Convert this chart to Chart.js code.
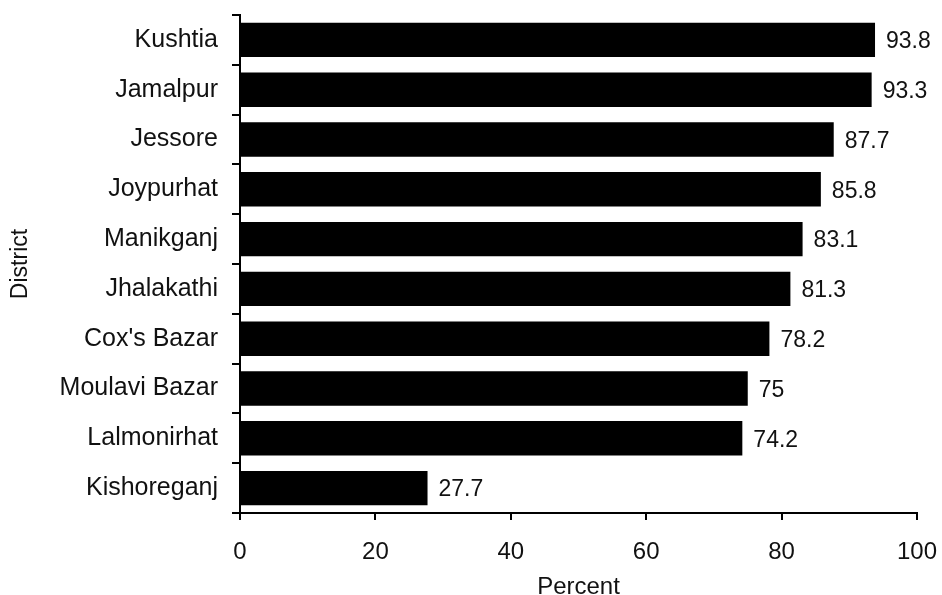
<!DOCTYPE html>
<html>
<head>
<meta charset="utf-8">
<script src="https://cdn.jsdelivr.net/npm/chart.js@4.4.1/dist/chart.umd.min.js"></script>
<style>
  html, body { margin: 0; padding: 0; background: #fff; }
  #wrap { width: 942px; height: 595px; }
</style>
</head>
<body>
<div id="wrap"><canvas id="districtChart" width="942" height="595"></canvas></div>
<script>
// districts, top to bottom
const districts = ['Kushtia', 'Jamalpur', 'Jessore', 'Joypurhat', 'Manikganj',
  'Jhalakathi', "Cox's Bazar", 'Moulavi Bazar', 'Lalmonirhat', 'Kishoreganj'];
const percents = [93.8, 93.3, 87.7, 85.8, 83.1, 81.3, 78.2, 75, 74.2, 27.7];
const percentTicks = [0, 20, 40, 60, 80, 100];

const fontFamily = '"Liberation Sans", Arial, sans-serif';

// value labels at the end of each bar
const valueLabels = {
  id: 'valueLabels',
  afterDatasetsDraw(chart) {
    const ctx = chart.ctx;
    const meta = chart.getDatasetMeta(0);
    ctx.save();
    ctx.fillStyle = '#111';
    ctx.font = '23px ' + fontFamily;
    ctx.textAlign = 'left';
    ctx.textBaseline = 'middle';
    meta.data.forEach((bar, i) => {
      ctx.fillText(String(percents[i]), bar.x + 11, bar.y + 2);
    });
    ctx.restore();
  }
};

function noEdgePadding(scale) {
  scale.paddingTop = 0;
  scale.paddingBottom = 0;
  scale.paddingLeft = 0;
  scale.paddingRight = 0;
}

const ctx = document.getElementById('districtChart').getContext('2d');
const chart = new Chart(ctx, {
  type: 'bar',
  data: {
    labels: districts,
    datasets: [{
      data: percents,
      backgroundColor: '#000',
      borderWidth: 0,
      categoryPercentage: 0.69,
      barPercentage: 1.0
    }]
  },
  options: {
    indexAxis: 'y',
    responsive: false,
    animation: false,
    layout: { padding: { top: 15, right: 25, left: 0, bottom: 0 } },
    plugins: { legend: { display: false }, tooltip: { enabled: false } },
    scales: {
      x: {
        min: 0,
        max: 100,
        afterBuildTicks(scale) {
          scale.ticks = percentTicks.map(v => ({ value: v }));
        },
        afterFit(scale) { scale.height = 82; noEdgePadding(scale); },
        border: { display: true, color: '#000', width: 2 },
        grid: { drawOnChartArea: false, drawTicks: true, tickLength: 7, color: '#000', lineWidth: 2 },
        ticks: {
          color: '#111',
          font: { family: fontFamily, size: 24 },
          padding: 18,
          maxRotation: 0
        },
        title: {
          display: true,
          text: 'Percent',
          color: '#111',
          font: { family: fontFamily, size: 24, lineHeight: 1.0 },
          padding: { top: 0, bottom: -4 }
        }
      },
      y: {
        afterFit(scale) { scale.width = 240; noEdgePadding(scale); },
        border: { display: true, color: '#000', width: 2 },
        grid: { drawOnChartArea: false, drawTicks: true, tickLength: 8, color: '#000', lineWidth: 2, offset: true },
        ticks: {
          color: '#111',
          font: { family: fontFamily, size: 25 },
          padding: 14
        },
        title: {
          display: true,
          text: 'District',
          color: '#111',
          font: { family: fontFamily, size: 23 },
          padding: { top: 7, bottom: 0 }
        }
      }
    }
  },
  plugins: [valueLabels]
});
</script>
</body>
</html>
